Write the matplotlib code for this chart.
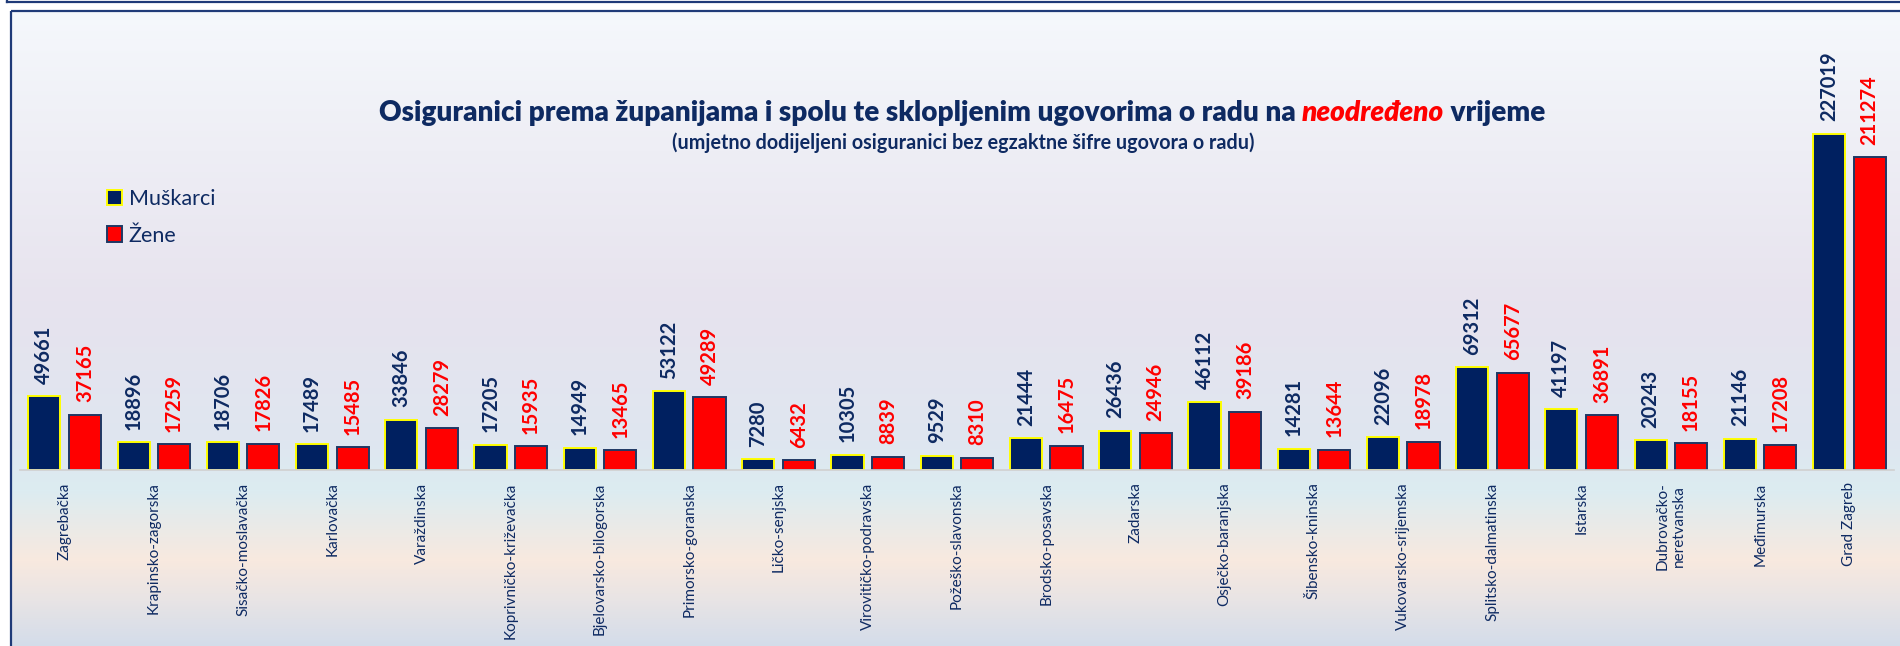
import numpy as np
import matplotlib.pyplot as plt
from matplotlib.patches import Rectangle, Patch

plt.rcParams['font.family'] = ['Lato', 'DejaVu Sans']

# Osiguranici na neodređeno vrijeme po županijama i spolu
zupanije = ["Zagrebačka", "Krapinsko-zagorska", "Sisačko-moslavačka", "Karlovačka",
            "Varaždinska", "Koprivničko-križevačka", "Bjelovarsko-bilogorska",
            "Primorsko-goranska", "Ličko-senjska", "Virovitičko-podravska",
            "Požeško-slavonska", "Brodsko-posavska", "Zadarska", "Osječko-baranjska",
            "Šibensko-kninska", "Vukovarsko-srijemska", "Splitsko-dalmatinska",
            "Istarska", "Dubrovačko-\nneretvanska", "Međimurska", "Grad Zagreb"]
muskarci = [49661, 18896, 18706, 17489, 33846, 17205, 14949, 53122, 7280, 10305, 9529,
            21444, 26436, 46112, 14281, 22096, 69312, 41197, 20243, 21146, 227019]
zene = [37165, 17259, 17826, 15485, 28279, 15935, 13465, 49289, 6432, 8839, 8310,
        16475, 24946, 39186, 13644, 18978, 65677, 36891, 18155, 17208, 211274]

navy = '#0e2a62'
bar_navy = '#002060'
red = '#ff0000'

W, H = 1900, 646
fig = plt.figure(figsize=(W / 100, H / 100), dpi=100)
fig.patch.set_facecolor('white')

# background panel with vertical gradient (pixel coordinates)
bg = fig.add_axes([0, 0, 1, 1])
bg.set_xlim(0, W)
bg.set_ylim(H, 0)
bg.axis('off')
stops_y = [11, 150, 300, 440, 490, 560, 600, 646]
stops_c = ['#f5f8fc', '#eeeef5', '#e7e3ee', '#dfe6f0', '#dcecf1', '#f8e9df', '#e8e4e5', '#d3dcea']
rgb = np.array([[int(c[i:i + 2], 16) / 255 for i in (1, 3, 5)] for c in stops_c])
yy = np.arange(11, H + 1)
grad = np.stack([np.interp(yy, stops_y, rgb[:, k]) for k in range(3)], axis=-1)[:, None, :]
bg.imshow(grad, extent=[11, W + 5, H + 1, 11], aspect='auto', zorder=0)
bg.add_patch(Rectangle((11, 11), W, H, fill=False, edgecolor='#1f3a78', lw=1.6, zorder=1))
bg.plot([7, W], [2, 2], color='#1f3a78', lw=1.6, zorder=1)
bg.plot([7, 7], [0, 2], color='#1f3a78', lw=1.6, zorder=1)

# title, composed of three parts so the middle word can be red italic
parts = [("Osiguranici prema županijama i spolu te sklopljenim ugovorima o radu na ", navy, 'normal'),
         ("neodređeno", red, 'italic'),
         (" vrijeme", navy, 'normal')]
texts = [bg.text(0, 113, s, color=c, style=st, fontweight='heavy', fontsize=20.1,
                 va='center', ha='left') for s, c, st in parts]
fig.canvas.draw()
r = fig.canvas.get_renderer()
widths = [t.get_window_extent(r).width for t in texts]
x = 962 - sum(widths) / 2
for t, w in zip(texts, widths):
    t.set_x(x)
    x += w
bg.text(963, 143, "(umjetno dodijeljeni osiguranici bez egzaktne šifre ugovora o radu)",
        color=navy, fontweight='bold', fontsize=14.2, ha='center', va='center')

# bar chart
ax = fig.add_axes([20 / W, (H - 470) / H, 1874 / W, 430 / H])
ax.patch.set_alpha(0)
x = np.arange(len(zupanije))
off, bw = 0.227, 0.36
ax.bar(x - off, muskarci, bw, color=bar_navy, edgecolor='#ffff00', lw=1.4, label='Muškarci')
ax.bar(x + off, zene, bw, color=red, edgecolor='#1f3864', lw=1.4, label='Žene')

for xi, v in zip(x, muskarci):
    ax.annotate(str(v), (xi - off, v), xytext=(0, 9), textcoords='offset points',
                rotation=90, ha='center', va='bottom', color=navy, fontweight='bold', fontsize=14.5)
for xi, v in zip(x, zene):
    ax.annotate(str(v), (xi + off, v), xytext=(0, 9), textcoords='offset points',
                rotation=90, ha='center', va='bottom', color=red, fontweight='bold', fontsize=14.5)

ax.set_xlim(-0.5, len(zupanije) - 0.5)
ax.set_ylim(0, 290500)
ax.set_xticks(x)
ax.set_xticklabels(zupanije, rotation=90, color=navy, fontsize=11)
ax.tick_params(axis='x', length=0, pad=9)
ax.set_yticks([])
for s in ['top', 'right', 'left']:
    ax.spines[s].set_visible(False)
ax.spines['bottom'].set_color('#d0d0d0')
ax.spines['bottom'].set_linewidth(1.2)

leg = ax.legend(handles=[Patch(facecolor=bar_navy, edgecolor='#ffff00', lw=1.4, label='Muškarci'),
                         Patch(facecolor=red, edgecolor='#1f3864', lw=1.4, label='Žene')],
                loc='upper left', bbox_to_anchor=(88 / W, 1 - 170 / H), bbox_transform=fig.transFigure,
                frameon=False, fontsize=15.5, handlelength=0.7, handleheight=0.7,
                handletextpad=0.3, labelspacing=0.75)
for t in leg.get_texts():
    t.set_color(navy)

fig.savefig('out.png', dpi=100)
